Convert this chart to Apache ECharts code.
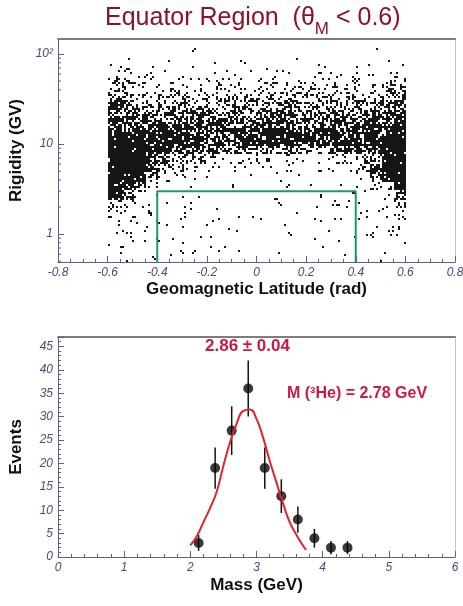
<!DOCTYPE html>
<html>
<head>
<meta charset="utf-8">
<script src="https://cdn.jsdelivr.net/npm/echarts/dist/echarts.min.js"></script>
<style>
html, body { margin: 0; padding: 0; background: #fff; }
#main { width: 463px; height: 606px; }
</style>
</head>
<body>
<div id="main"></div>
<script>
// ---- top panel: event density, 0 = empty .. 9 = solid black
// columns: latitude bins of 0.05 from -0.6 to 0.6
// rows: log10(rigidity) bins of 0.1, from 2.2 (top row) down to -0.3
var latStart = -0.6
var latStep = 0.05
var logTop = 2.2
var logStep = 0.1
var densityRows = [
  '000000000000000000000000',
  '000000100000000010000100',
  '010010001010001100100010',
  '221111121111211121112122',
  '332222222222222222222233',
  '443333333333333333333344',
  '554444444444444444444455',
  '765555555555555555555667',
  '776666666666666666666778',
  '877777777777777777777788',
  '888888877888888888888889',
  '999888877788888888888899',
  '999887766666665555667899',
  '999765544333222222334699',
  '999654322111111111114899',
  '998532110101010101012699',
  '986310101010101010101339',
  '873101010101010101011127',
  '532110101101011010111124',
  '321101101011010110101122',
  '221111011101101011101122',
  '221101110110111011011122',
  '121111011011101110110112',
  '111101101110110101101011',
  '110101010101010101010101'
]
var boxLat = [-0.4, 0.4]
var boxRigidity = 3
var rigidityMin = 0.49
var rigidityMax = 147
var rigidityMinorTicks = [0.5, 0.6, 0.7, 0.8, 0.9, 2, 3, 4, 5, 6, 7, 8, 9, 20, 30, 40, 50, 60, 70, 80, 90]

// ---- bottom panel: mass histogram with fit
var massBins = [2.125, 2.375, 2.625, 2.875, 3.125, 3.375, 3.625, 3.875, 4.125, 4.375]
var events = [3, 19, 27, 36, 19, 13, 8, 4, 2, 2]
var eventErrors = [1.7, 4.4, 5.2, 6, 4.4, 3.6, 2.8, 2, 1.4, 1.4]
var fitMass = [2.0, 2.1, 2.2, 2.3, 2.4, 2.5, 2.6, 2.7, 2.8, 2.9, 3.0, 3.1, 3.2, 3.3, 3.4, 3.5, 3.6, 3.7, 3.75]
var fitEvents = [2.5, 4.5, 7.5, 10.5, 14, 19.5, 24.5, 28.5, 31.2, 31.5, 29.5, 25.5, 20.5, 16, 11.5, 7.5, 4.8, 2.5, 1.5]

var tickColor = '#5e5e8c'
var labelColor = '#4a4a82'
var titleRed = '#8e1226'
var annRed = '#d0173f'
var font = 'Liberation Sans'

// each density cell is drawn as 2px dots on a fixed page-wide grid;
// a dot slot is inked when a fixed integer hash of its position is below
// the cell's coverage (this is only the speckle texture, not data)
var coverage = [0, 0.03, 0.07, 0.14, 0.24, 0.36, 0.5, 0.65, 0.8, 0.96]
function hash(x, y) {
  var h = Math.imul(x + 1, 0x27d4eb2d) ^ Math.imul(y + 7, 0x165667b1)
  h = Math.imul(h ^ (h >>> 15), 0x85ebca6b)
  h = Math.imul(h ^ (h >>> 13), 0xc2b2ae35)
  h = Math.imul(h ^ (h >>> 16), 0x7feb352d)
  h ^= h >>> 15
  return (h >>> 0) / 4294967296
}

var densityData = []
densityRows.forEach(function (row, r) {
  for (var c = 0; c < row.length; c++) {
    var d = +row[c]
    if (!d) continue
    var lat0 = latStart + c * latStep
    var lg1 = logTop - r * logStep
    densityData.push([lat0, lat0 + latStep, Math.pow(10, lg1 - logStep), Math.pow(10, lg1), d])
  }
})

function renderDensity(params, api) {
  var p0 = api.coord([api.value(0), api.value(3)])
  var p1 = api.coord([api.value(1), api.value(2)])
  var f = coverage[api.value(4)]
  var path = ''
  for (var sy = Math.ceil(p0[1] / 2); sy < Math.ceil(p1[1] / 2); sy++) {
    for (var sx = Math.ceil(p0[0] / 2); sx < Math.ceil(p1[0] / 2); sx++) {
      if (hash(sx, sy) < f) path += 'M' + sx * 2 + ' ' + sy * 2 + 'h2v2h-2z'
    }
  }
  if (!path) return { type: 'group', children: [] }
  return { type: 'path', shape: { pathData: path }, style: { fill: '#161616' } }
}

function renderMinorTick(params, api) {
  var p = api.coord([api.value(0), api.value(1)])
  return {
    type: 'line',
    shape: { x1: p[0], y1: p[1], x2: p[0] + 3, y2: p[1] },
    style: { stroke: tickColor, lineWidth: 1 }
  }
}

function renderErrorBar(params, api) {
  var hi = api.coord([api.value(0), api.value(2)])
  var lo = api.coord([api.value(0), api.value(1)])
  return {
    type: 'line',
    shape: { x1: hi[0], y1: hi[1], x2: lo[0], y2: lo[1] },
    style: { stroke: '#111', lineWidth: 1.5 }
  }
}

var axisLabel = { color: labelColor, fontStyle: 'italic', fontSize: 12, fontFamily: font, margin: 5 }
var nameStyle = { color: '#111', fontWeight: 'bold', fontSize: 17, fontFamily: font }

function frameAxis(grid, pos, color, width) {
  return {
    gridIndex: grid, type: 'value', position: pos, min: 0, max: 1,
    axisLine: { show: true, onZero: false, lineStyle: { color: color, width: width } },
    axisTick: { show: false }, axisLabel: { show: false }, splitLine: { show: false }
  }
}

var chart = echarts.init(document.getElementById('main'))
chart.setOption({
  animation: false,
  backgroundColor: '#fff',
  title: {
    text: '{a|Equator Region  (θ}{s|M}{a| < 0.6)}',
    left: 100, top: 1,
    textStyle: {
      rich: {
        a: { fontSize: 25, fontWeight: 'normal', color: titleRed, fontFamily: font, padding: [0, 0, 7, 0], verticalAlign: 'bottom' },
        s: { fontSize: 17, fontWeight: 'normal', color: titleRed, fontFamily: font, verticalAlign: 'bottom' }
      }
    }
  },
  grid: [
    { left: 58, right: 8, top: 39, height: 223, outerBoundsMode: 'none' },
    { left: 58, right: 8, top: 337, height: 220, outerBoundsMode: 'none' }
  ],
  xAxis: [
    {
      gridIndex: 0, type: 'value', min: -0.8, max: 0.8, interval: 0.2,
      name: 'Geomagnetic Latitude (rad)', nameLocation: 'middle', nameGap: 19, nameTextStyle: nameStyle,
      axisLine: { onZero: false, lineStyle: { color: tickColor } },
      axisTick: { inside: true, length: 6, lineStyle: { color: tickColor } },
      minorTick: { show: true, splitNumber: 4, length: 3, lineStyle: { color: tickColor } },
      axisLabel: Object.assign({}, axisLabel, {
        formatter: function (v) { return v === 0 ? '0' : v.toFixed(1) }
      }),
      splitLine: { show: false }
    },
    frameAxis(0, 'top', '#7d7d7d', 2),
    {
      gridIndex: 1, type: 'value', min: 0, max: 6, interval: 1,
      name: 'Mass (GeV)', nameLocation: 'middle', nameGap: 20, nameTextStyle: nameStyle,
      axisLine: { onZero: false, lineStyle: { color: tickColor } },
      axisTick: { inside: true, length: 6, lineStyle: { color: tickColor } },
      minorTick: { show: true, splitNumber: 5, length: 3, lineStyle: { color: tickColor } },
      axisLabel: axisLabel,
      splitLine: { show: false }
    },
    frameAxis(1, 'top', '#7d7d7d', 2)
  ],
  yAxis: [
    {
      gridIndex: 0, type: 'log', logBase: 10, min: rigidityMin, max: rigidityMax,
      name: 'Rigidity (GV)', nameLocation: 'middle', nameGap: 29, nameTextStyle: nameStyle,
      axisLine: { onZero: false, lineStyle: { color: tickColor } },
      axisTick: { inside: true, length: 6, lineStyle: { color: tickColor } },
      axisLabel: Object.assign({}, axisLabel, {
        showMinLabel: false, showMaxLabel: false,
        formatter: function (v) {
          if (Math.abs(v - 100) < 1e-6) return '10²'
          if (Math.abs(v - 10) < 1e-6) return '10'
          if (Math.abs(v - 1) < 1e-6) return '1'
          return ''
        }
      }),
      splitLine: { show: false }
    },
    frameAxis(0, 'right', '#c4c4c4', 1),
    {
      gridIndex: 1, type: 'value', min: 0, max: 47, interval: 5,
      name: 'Events', nameLocation: 'middle', nameGap: 33, nameTextStyle: nameStyle,
      axisLine: { onZero: false, lineStyle: { color: tickColor } },
      axisTick: { inside: true, length: 6, lineStyle: { color: tickColor } },
      minorTick: { show: true, splitNumber: 5, length: 3, lineStyle: { color: tickColor } },
      axisLabel: Object.assign({}, axisLabel, { showMaxLabel: false }),
      splitLine: { show: false }
    },
    frameAxis(1, 'right', '#c4c4c4', 1)
  ],
  graphic: [
    {
      type: 'text', left: 205, top: 338,
      style: { text: '2.86 ± 0.04', fill: annRed, font: 'bold 17px "Liberation Sans"' }
    },
    {
      type: 'text', left: 287, top: 386,
      style: { text: 'M (³He) = 2.78 GeV', fill: annRed, font: 'bold 16px "Liberation Sans"' }
    }
  ],
  series: [
    {
      type: 'custom', xAxisIndex: 0, yAxisIndex: 0, clip: true,
      renderItem: renderDensity,
      encode: { x: [0, 1], y: [2, 3] },
      data: densityData, silent: true
    },
    {
      type: 'line', xAxisIndex: 0, yAxisIndex: 0, symbol: 'none',
      lineStyle: { color: '#1e9a5c', width: 2 },
      data: [[boxLat[0], rigidityMin], [boxLat[0], boxRigidity], [boxLat[1], boxRigidity], [boxLat[1], rigidityMin]]
    },
    {
      type: 'custom', xAxisIndex: 0, yAxisIndex: 0,
      renderItem: renderMinorTick,
      data: rigidityMinorTicks.map(function (v) { return [-0.8, v] })
    },
    {
      type: 'custom', xAxisIndex: 2, yAxisIndex: 2,
      renderItem: renderErrorBar,
      encode: { x: 0, y: [1, 2] },
      data: massBins.map(function (m, i) { return [m, events[i] - eventErrors[i], events[i] + eventErrors[i]] })
    },
    {
      type: 'line', xAxisIndex: 2, yAxisIndex: 2, smooth: true, symbol: 'none',
      lineStyle: { color: '#e3232b', width: 2 },
      data: fitMass.map(function (m, i) { return [m, fitEvents[i]] })
    },
    {
      type: 'scatter', xAxisIndex: 2, yAxisIndex: 2, symbolSize: 10,
      itemStyle: { color: '#0a0a0a' },
      data: massBins.map(function (m, i) { return [m, events[i]] })
    }
  ]
})
</script>
</body>
</html>
